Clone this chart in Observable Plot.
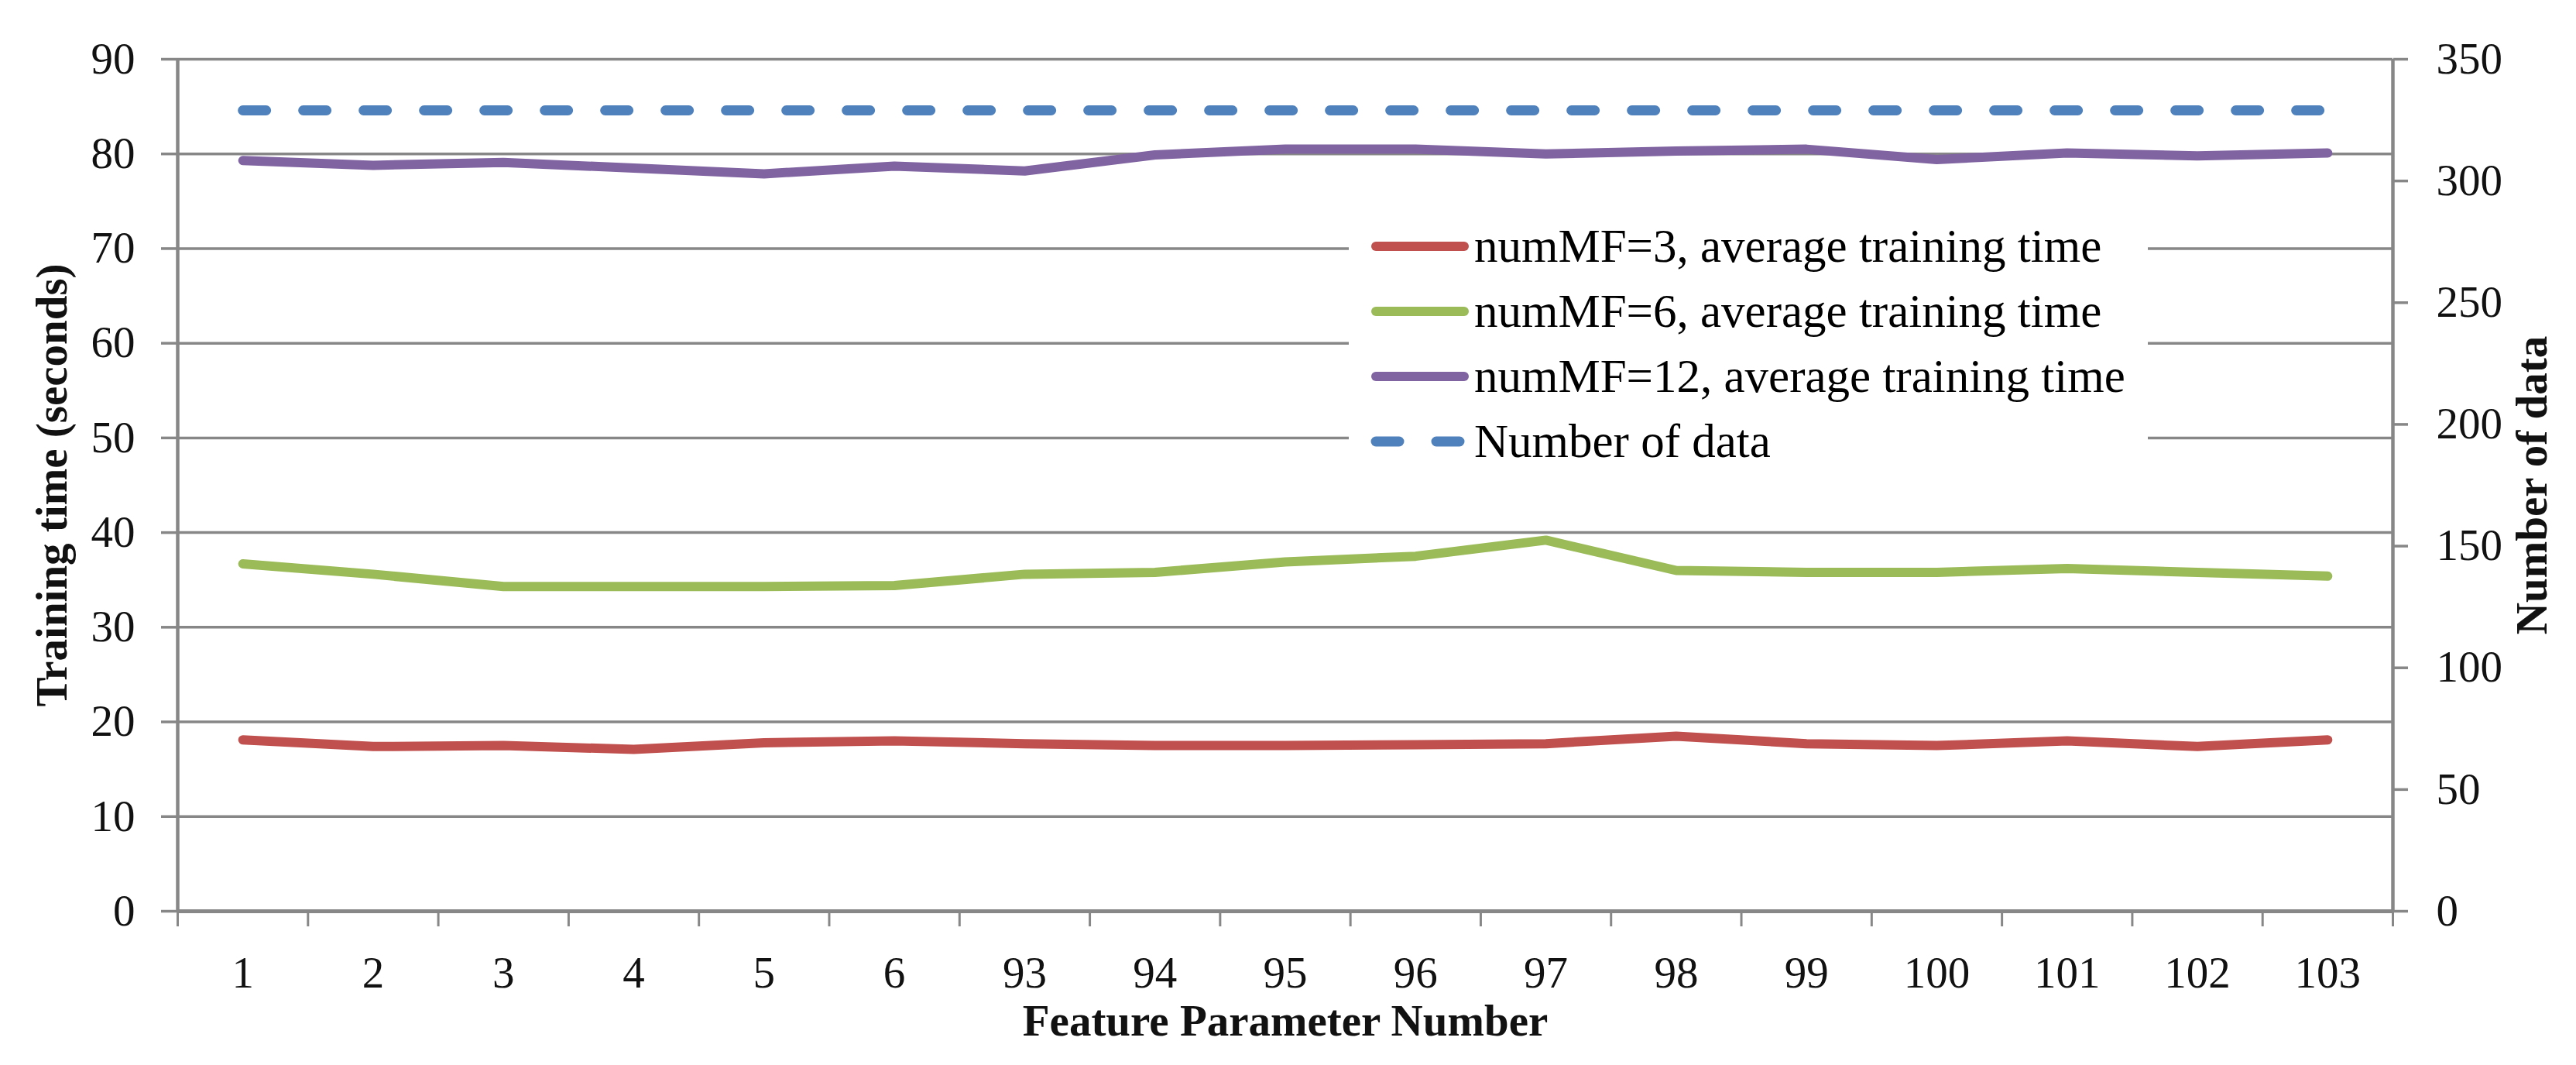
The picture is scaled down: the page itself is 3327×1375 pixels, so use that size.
<!DOCTYPE html>
<html>
<head>
<meta charset="utf-8">
<script src="https://cdn.jsdelivr.net/npm/d3@7"></script>
<script src="https://cdn.jsdelivr.net/npm/@observablehq/plot@0.6"></script>
<style>
  html, body { margin: 0; padding: 0; background: #fff; }
  #wrap { position: relative; width: 3327px; height: 1375px; font-family: "Liberation Serif", serif; }
  #legend { position: absolute; left: 1742px; top: 262px; width: 1032px; height: 363px; background: #fff; }
  .row { position: absolute; left: 28px; height: 84px; display: flex; align-items: center; font-size: 61px; color: #000; white-space: nowrap; }
  .row svg { margin-right: 6px; }
</style>
</head>
<body>
<div id="wrap"><div id="legend"></div></div>
<script>
// ---- data ----
const categories = ["1","2","3","4","5","6","93","94","95","96","97","98","99","100","101","102","103"];
const mf3  = [18.1, 17.4, 17.5, 17.1, 17.8, 18.0, 17.7, 17.5, 17.5, 17.6, 17.7, 18.5, 17.7, 17.5, 18.0, 17.4, 18.1];
const mf6  = [36.7, 35.6, 34.3, 34.3, 34.3, 34.4, 35.6, 35.8, 36.9, 37.5, 39.2, 36.0, 35.8, 35.8, 36.2, 35.8, 35.4];
const mf12 = [79.3, 78.8, 79.1, 78.5, 77.9, 78.7, 78.2, 79.9, 80.5, 80.5, 80.0, 80.3, 80.5, 79.4, 80.1, 79.8, 80.1];
const numData = [329, 329, 329, 329, 329, 329, 329, 329, 329, 329, 329, 329, 329, 329, 329, 329, 329];
const leftTicks = [0, 10, 20, 30, 40, 50, 60, 70, 80, 90];
const rightTicks = [0, 50, 100, 150, 200, 250, 300, 350];
const seriesNames = ["numMF=3, average training time", "numMF=6, average training time", "numMF=12, average training time", "Number of data"];
const seriesColors = ["#C0504D", "#9BBB59", "#8064A2", "#4F81BD"];
const leftTitle = "Training time (seconds)";
const rightTitle = "Number of data";
const xTitle = "Feature Parameter Number";
const leftMax = 90, rightMax = 350;

// ---- build table ----
const rows = categories.map((c, i) => ({idx: i + 1, cat: c, mf3: mf3[i], mf6: mf6[i], mf12: mf12[i], n: numData[i]}));
const toLeft = v => v * leftMax / rightMax;
const bounds = d3.range(categories.length + 1).map(i => i + 0.5);
const grid = "#878787";
const txt = "#111";
const lw = 12;

const chart = Plot.plot({
  width: 3327, height: 1375,
  marginLeft: 229, marginRight: 237, marginTop: 76, marginBottom: 199,
  style: {fontFamily: "Liberation Serif, serif", fontSize: "57px", background: "#fff", color: txt},
  x: {type: "linear", domain: [bounds[0], bounds[bounds.length - 1]]},
  y: {domain: [0, leftMax]},
  marks: [
    Plot.ruleY(leftTicks.filter(d => d > 0), {stroke: grid, strokeWidth: 3.5}),
    Plot.axisY(leftTicks, {anchor: "left", tickSize: 21, tickPadding: 34, stroke: grid, strokeWidth: 3.5, fill: txt, fontSize: 57, label: null}),
    Plot.axisY(rightTicks.map(toLeft), {anchor: "right", tickSize: 19, tickPadding: 37, stroke: grid, strokeWidth: 3.5, fill: txt, fontSize: 57, label: null, tickFormat: d => String(Math.round(d * rightMax / leftMax))}),
    Plot.axisX(bounds, {anchor: "bottom", tickSize: 20, stroke: grid, strokeWidth: 3, tickFormat: () => "", label: null}),
    Plot.axisX(rows.map(d => d.idx), {anchor: "bottom", tickSize: 0, tickPadding: 58, fill: txt, fontSize: 57, label: null, tickFormat: i => categories[i - 1]}),
    Plot.ruleX([bounds[0], bounds[bounds.length - 1]], {stroke: grid, strokeWidth: 4.5}),
    Plot.ruleY([0], {stroke: grid, strokeWidth: 5}),
    Plot.line(rows, {x: "idx", y: "mf3", stroke: seriesColors[0], strokeWidth: lw, strokeLinejoin: "round", strokeLinecap: "round"}),
    Plot.line(rows, {x: "idx", y: "mf6", stroke: seriesColors[1], strokeWidth: lw, strokeLinejoin: "round", strokeLinecap: "round"}),
    Plot.line(rows, {x: "idx", y: "mf12", stroke: seriesColors[2], strokeWidth: lw, strokeLinejoin: "round", strokeLinecap: "round"}),
    Plot.line(rows, {x: "idx", y: d => toLeft(d.n), stroke: seriesColors[3], strokeWidth: 13, strokeLinecap: "round", strokeDasharray: "30,48"}),
    Plot.text([leftTitle], {text: d => d, frameAnchor: "left", dx: -162, rotate: -90, fontWeight: "bold", fontSize: 57, fill: txt, lineAnchor: "middle", textAnchor: "middle"}),
    Plot.text([rightTitle], {text: d => d, frameAnchor: "right", dx: 180, rotate: -90, fontWeight: "bold", fontSize: 57, fill: txt, lineAnchor: "middle", textAnchor: "middle"}),
    Plot.text([xTitle], {text: d => d, frameAnchor: "bottom", dy: 142, fontWeight: "bold", fontSize: 57, fill: txt, lineAnchor: "middle", textAnchor: "middle"})
  ]
});
const wrap = document.getElementById("wrap");
wrap.insertBefore(chart, wrap.firstChild);

// ---- legend overlay ----
const legend = d3.select("#legend");
seriesNames.forEach((name, i) => {
  const row = legend.append("div").attr("class", "row").style("top", (14 + i * 84) + "px");
  const sw = row.append("svg").attr("width", 128).attr("height", 20);
  const ln = sw.append("line").attr("x1", 7).attr("x2", 121).attr("y1", 10).attr("y2", 10)
    .attr("stroke", seriesColors[i]).attr("stroke-width", i === 3 ? 13 : lw).attr("stroke-linecap", "round");
  if (i === 3) ln.attr("stroke-dasharray", "30,48");
  row.append("span").text(name);
});
</script>
</body>
</html>
